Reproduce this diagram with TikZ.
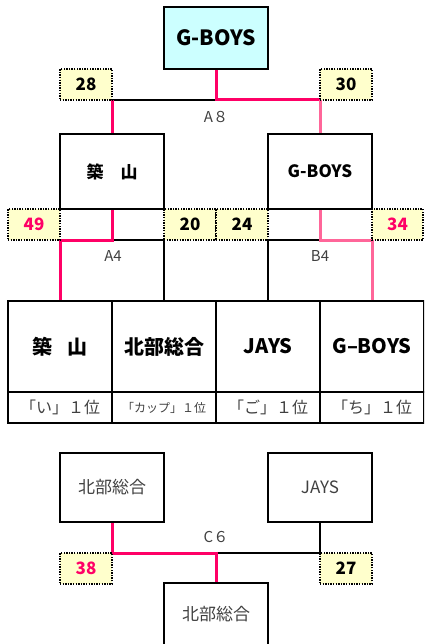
\documentclass[tikz,border=0pt]{standalone}
\usepackage{fontspec}
\setmainfont{Noto Sans CJK JP}
\definecolor{winpink}{rgb}{1,0,0.4}
\definecolor{softpink}{rgb}{1,0.4,0.6}
\definecolor{scorefill}{HTML}{FFFFCC}
\definecolor{topfill}{HTML}{CCFFFF}
\definecolor{labelgray}{HTML}{404040}
\newcommand{\fs}[1]{\fontsize{#1}{#1}\selectfont}
\tikzset{
  frame/.style={draw=black, line width=1.6pt, inner sep=0pt, align=center},
  score/.style={draw=black, line width=1.4pt, dash pattern=on 1.4pt off 1.2pt,
    fill=scorefill, inner sep=0pt, minimum width=52pt, minimum height=31pt,
    font=\bfseries\fs{17}},
  pinkline/.style={line width=3pt, color=winpink},
  softline/.style={line width=3pt, color=softpink},
  blackline/.style={draw=black, line width=1.6pt},
  lbl/.style={text=labelgray, inner sep=0pt, font=\fs{15}},
  card/.style={frame, minimum width=104pt, minimum height=91pt, font=\bfseries\fs{20}},
  rank/.style={frame, minimum width=104pt, minimum height=31pt, text=labelgray, font=\fs{16}}
}
\begin{document}
\begin{tikzpicture}[x=1pt,y=-1pt]
\useasboundingbox (0,0) rectangle (424,644);
\clip (0,0) rectangle (424,644);

% top section
\node[frame, fill=topfill, minimum width=104pt, minimum height=62pt, font=\bfseries\fs{21}] (top) at (216,38) {G-BOYS};
\node[frame, minimum width=104pt, minimum height=75pt, font=\bfseries\fs{17}] (mL) at (112,171.5) {築\hspace{1em}山};
\node[frame, minimum width=104pt, minimum height=75pt, font=\bfseries\fs{17}] (mR) at (320,171.5) {G-BOYS};

% cards
\node[card] (c1) at (60,346.5) {築\hspace{0.75em}山};
\node[card] (c2) at (164,346.5) {北部総合};
\node[card] (c3) at (268,346.5) {JAYS};
\node[card] (c4) at (372,346.5) {G–BOYS};
\node[rank] (r1) at (60,407.5) {「い」１位};
\node[rank, font=\fs{12}] (r2) at (164,407.5) {「カップ」１位};
\node[rank] (r3) at (268,407.5) {「ご」１位};
\node[rank] (r4) at (372,407.5) {「ち」１位};

% bottom section
\node[frame, minimum width=104pt, minimum height=69pt, text=labelgray, font=\fs{17}] (bL) at (112,487.5) {北部総合};
\node[frame, minimum width=104pt, minimum height=69pt, text=labelgray, font=\fs{17}] (bR) at (320,487.5) {JAYS};
\node[frame, minimum width=104pt, minimum height=62pt, text=labelgray, font=\fs{17}] (bW) at (216,614) {北部総合};

% junctions
\coordinate (a8) at (216,100);
\coordinate (a8l) at (112,100);
\coordinate (a8r) at (320,100);
\coordinate (a4) at (112,240);
\coordinate (b4) at (320,240);
\coordinate (c6) at (216,553);

% connectors
\draw[blackline] (a8l) -- (a8);
\draw[pinkline] (mL.north) -- (a8l);
\draw[pinkline] (top.south) -- (a8) -- (a8r);
\draw[softline] (a8r) -- (mR.north);

\draw[blackline] (c2.north) |- (a4);
\draw[pinkline] (c1.north) |- (a4) -- (mL.south);

\draw[blackline] (c3.north) |- (b4);
\draw[softline] (c4.north) |- (b4) -- (mR.south);

\draw[blackline] (bR.south) |- (c6);
\draw[pinkline] (bL.south) |- (c6) -- (bW.north);

% scores
\node[score] (s28) at (86,84.5) {28};
\node[score] (s30) at (346,84.5) {30};
\node[score, text=winpink] (s49) at (34,224.5) {49};
\node[score] (s20) at (190,224.5) {20};
\node[score] (s24) at (242,224.5) {24};
\node[score, minimum width=51pt, text=winpink] (s34) at (397.5,224.5) {34};
\node[score, text=winpink] (s38) at (86,568.5) {38};
\node[score] (s27) at (346,568.5) {27};

% round labels
\node[lbl] (lA8) at (216,117) {A８};
\node[lbl] (lA4) at (113,256) {A4};
\node[lbl] (lB4) at (320,256) {B4};
\node[lbl] (lC6) at (216,537) {C６};
\end{tikzpicture}
\end{document}
